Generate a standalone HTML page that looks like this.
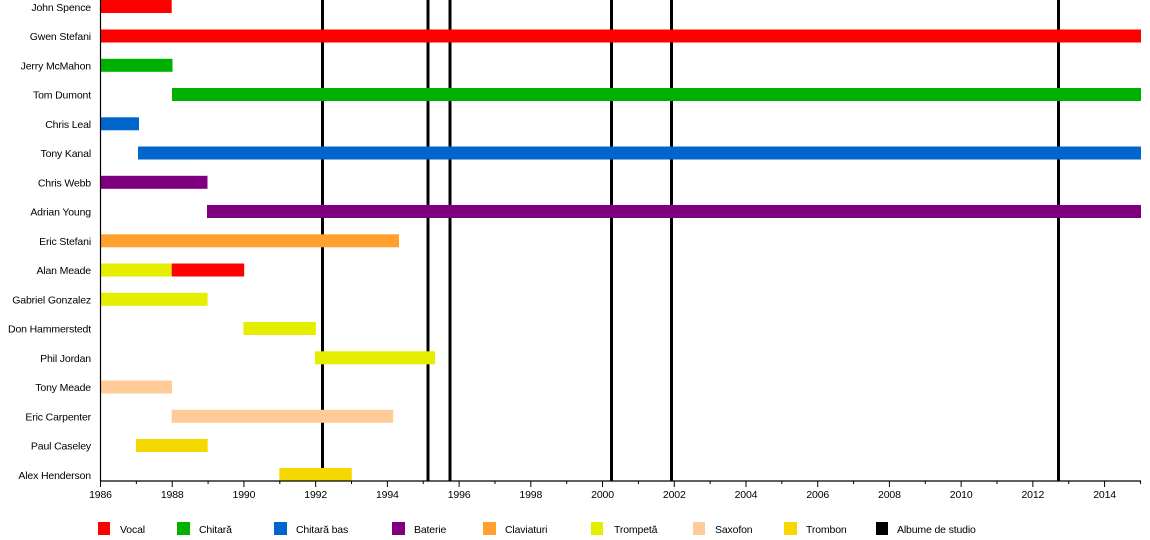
<!DOCTYPE html>
<html><head><meta charset="utf-8"><style>
html,body{margin:0;padding:0;background:#fff;}
svg{display:block;font-family:"Liberation Sans",Arial,sans-serif;font-size:10.5px;letter-spacing:-0.15px;}
</style></head><body>
<svg width="1150" height="540" viewBox="0 0 1150 540" xmlns="http://www.w3.org/2000/svg">
<rect width="1150" height="540" fill="#fff"/>
<g stroke="#000" stroke-width="3">
<line x1="322.5" y1="0" x2="322.5" y2="481"/>
<line x1="428" y1="0" x2="428" y2="481"/>
<line x1="450" y1="0" x2="450" y2="481"/>
<line x1="611.5" y1="0" x2="611.5" y2="481"/>
<line x1="671.5" y1="0" x2="671.5" y2="481"/>
<line x1="1058.5" y1="0" x2="1058.5" y2="481"/>
</g>
<g>
<rect x="100" y="0" width="71.7" height="13" fill="#ff0000"/>
<rect x="100" y="29.5" width="1041" height="13" fill="#ff0000"/>
<rect x="100" y="58.8" width="72.5" height="13" fill="#00b000"/>
<rect x="172" y="88" width="969" height="13" fill="#00b000"/>
<rect x="100" y="117.3" width="39" height="13" fill="#0066cc"/>
<rect x="138" y="146.5" width="1003" height="13" fill="#0066cc"/>
<rect x="100" y="175.8" width="107.5" height="13" fill="#7f007f"/>
<rect x="207" y="205" width="934" height="13" fill="#7f007f"/>
<rect x="100" y="234.3" width="299" height="13" fill="#ffa030"/>
<rect x="100" y="263.5" width="71.7" height="13" fill="#e6ee00"/>
<rect x="171.7" y="263.5" width="72.5" height="13" fill="#ff0000"/>
<rect x="100" y="292.8" width="107.6" height="13" fill="#e6ee00"/>
<rect x="243.4" y="322" width="72.5" height="13" fill="#e6ee00"/>
<rect x="315" y="351.3" width="120" height="13" fill="#e6ee00"/>
<rect x="100" y="380.5" width="72" height="13" fill="#ffcc99"/>
<rect x="171.7" y="409.8" width="221.5" height="13" fill="#ffcc99"/>
<rect x="135.9" y="439" width="71.8" height="13" fill="#f5d800"/>
<rect x="279.3" y="468" width="72.5" height="13" fill="#f5d800"/>
</g>
<g text-anchor="end" fill="#000">
<text x="91" y="11">John Spence</text>
<text x="91" y="40">Gwen Stefani</text>
<text x="91" y="69.5">Jerry McMahon</text>
<text x="91" y="98.5">Tom Dumont</text>
<text x="91" y="128">Chris Leal</text>
<text x="91" y="157">Tony Kanal</text>
<text x="91" y="186.5">Chris Webb</text>
<text x="91" y="215.5">Adrian Young</text>
<text x="91" y="245">Eric Stefani</text>
<text x="91" y="274">Alan Meade</text>
<text x="91" y="303.5">Gabriel Gonzalez</text>
<text x="91" y="332.5">Don Hammerstedt</text>
<text x="91" y="362">Phil Jordan</text>
<text x="91" y="391">Tony Meade</text>
<text x="91" y="420.5">Eric Carpenter</text>
<text x="91" y="449.5">Paul Caseley</text>
<text x="91" y="479">Alex Henderson</text>
</g>
<g stroke="#000" stroke-width="1.2">
<line x1="100.5" y1="0" x2="100.5" y2="481"/>
<line x1="100" y1="481" x2="1141" y2="481"/>
</g>
<g id="ticks" stroke="#000" stroke-width="1"></g>
<g id="tl" text-anchor="middle" fill="#000"></g>
<g>
<rect x="98" y="522" width="12" height="13" fill="#ff0000"/><text x="120" y="533">Vocal</text>
<rect x="177" y="522" width="13" height="13" fill="#00b000"/><text x="199" y="533">Chitară</text>
<rect x="274" y="522" width="13" height="13" fill="#0066cc"/><text x="296" y="533">Chitară bas</text>
<rect x="392" y="522" width="13" height="13" fill="#7f007f"/><text x="414" y="533">Baterie</text>
<rect x="483" y="522" width="13" height="13" fill="#ffa030"/><text x="505" y="533">Claviaturi</text>
<rect x="591" y="522" width="12" height="13" fill="#e6ee00"/><text x="614" y="533">Trompetă</text>
<rect x="693" y="522" width="12" height="13" fill="#ffcc99"/><text x="715" y="533">Saxofon</text>
<rect x="784" y="522" width="13" height="13" fill="#f5d800"/><text x="806" y="533">Trombon</text>
<rect x="876" y="522" width="12" height="13" fill="#000"/><text x="897" y="533">Albume de studio</text>
</g>
</svg>
<script>
var t=document.getElementById('ticks'),l=document.getElementById('tl'),ns='http://www.w3.org/2000/svg';
for(var y=1986;y<=2015;y++){var x=100.5+(y-1986)*35.86;var ln=document.createElementNS(ns,'line');
ln.setAttribute('x1',x);ln.setAttribute('x2',x);ln.setAttribute('y1',481);ln.setAttribute('y2',(y%2==0)?487:484);t.appendChild(ln);
if(y%2==0){var tx=document.createElementNS(ns,'text');tx.setAttribute('x',x);tx.setAttribute('y',498);tx.textContent=y;l.appendChild(tx);}}
</script>
</body></html>
